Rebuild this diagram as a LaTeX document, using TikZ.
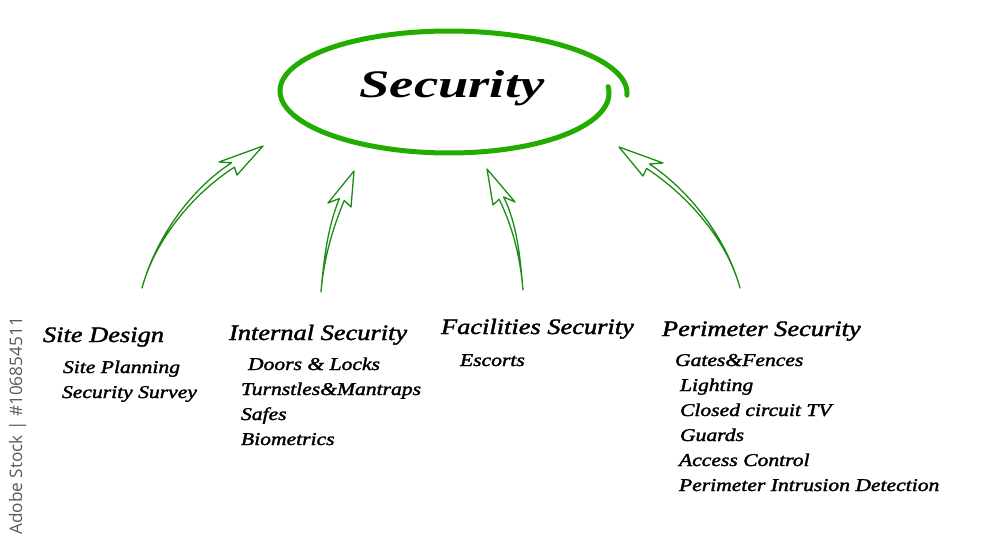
\documentclass[tikz,border=0pt]{standalone}
\usepackage{fontspec}
\usepackage{graphicx}
\setmainfont{Liberation Serif}
\newfontface\itfont{Liberation Serif Italic}[RawFeature={embolden=1.6}]
\newfontfamily\wmfont{Open Sans}
\definecolor{ringgreen}{RGB}{34,172,0}
\definecolor{arrgreen}{RGB}{28,140,20}
\definecolor{wmgray}{RGB}{90,90,90}
\newcommand\ttl[1]{\scalebox{1.2}[1]{\fontsize{22}{26}\itfont #1}}
\newcommand\itm[1]{\scalebox{1.2}[1]{\fontsize{18}{22}\itfont #1}}
\tikzset{
  arr/.style={draw=arrgreen, line width=1.3pt, line join=round},
  lbl/.style={anchor=base west, inner sep=0pt, outer sep=0pt},
}
\begin{document}
\begin{tikzpicture}[x=1pt,y=-1pt]
\useasboundingbox (0,0) rectangle (1000,548);
\fill[white] (0,0) rectangle (1000,548);
% central ring
\draw[ringgreen, line width=5pt, line cap=round]
  plot[domain=-3:365, samples=150, smooth, variable=\t]
  ({449+(178-0.05*\t)*cos(\t)}, {92-61*sin(\t)});
\node[anchor=base, inner sep=0pt] (sec) at (452,98)
  {\scalebox{1.4}[1]{\fontsize{39}{44}\selectfont\bfseries\itshape Security}};
% arrows
\coordinate (t1) at (142,288); \coordinate (h1) at (263,146);
\draw[arr] (t1) .. controls (155,240) and (192.4,194.2) .. (234.4,167.2) -- (237,175) -- (h1)
  -- (219,162) -- (231.6,162.8) .. controls (189.6,189.8) and (155,240) .. (t1) -- cycle;
\coordinate (t2) at (321,292); \coordinate (h2) at (354,171);
\draw[arr] (t2) .. controls (324,257) and (332.8,228.3) .. (344.2,200.5) -- (351,207) -- (h2)
  -- (328,203) -- (339.4,198.5) .. controls (328,226.3) and (324,257) .. (t2) -- cycle;
\coordinate (t3) at (523,290); \coordinate (h3) at (487,169);
\draw[arr] (t3) .. controls (520,255) and (516.8,223.9) .. (503.7,197.0) -- (515,202) -- (h3)
  -- (493,205) -- (499.1,199.2) .. controls (512.2,226.1) and (520,255) .. (t3) -- cycle;
\coordinate (t4) at (740,288); \coordinate (h4) at (619,147);
\draw[arr] (t4) .. controls (727,240) and (691.1,191.6) .. (649.4,164.0) -- (663,163) -- (h4)
  -- (643,176) -- (646.6,168.4) .. controls (688.3,196) and (727,240) .. (t4) -- cycle;
% column 1
\node[lbl] (sd) at (43,342) {\ttl{Site Design}};
\node[lbl] (sd1) at (63,373) {\itm{Site Planning}};
\node[lbl] (sd2) at (62,398) {\itm{Security Survey}};
% column 2
\node[lbl] (is) at (229,340) {\ttl{Internal Security}};
\node[lbl] (is1) at (248,370) {\itm{Doors \& Locks}};
\node[lbl] (is2) at (241,395) {\itm{Turnstles\&Mantraps}};
\node[lbl] (is3) at (241,420) {\itm{Safes}};
\node[lbl] (is4) at (241,445) {\itm{Biometrics}};
% column 3
\node[lbl] (fs) at (441,334) {\ttl{Facilities Security}};
\node[lbl] (fs1) at (460,366) {\itm{Escorts}};
% column 4
\node[lbl] (ps) at (662,336) {\ttl{Perimeter Security}};
\node[lbl] (ps1) at (675,366) {\itm{Gates\&Fences}};
\node[lbl] (ps2) at (680,391) {\itm{Lighting}};
\node[lbl] (ps3) at (680,416) {\itm{Closed circuit TV}};
\node[lbl] (ps4) at (680,441) {\itm{Guards}};
\node[lbl] (ps5) at (679,466) {\itm{Access Control}};
\node[lbl] (ps6) at (679,491) {\itm{Perimeter Intrusion Detection}};
% side mark
\node[rotate=90, anchor=base west, inner sep=0pt, text=wmgray] (wm) at (22,535)
  {\wmfont\fontsize{17.2}{20}\selectfont Adobe Stock | \#106854511};
\end{tikzpicture}
\end{document}
